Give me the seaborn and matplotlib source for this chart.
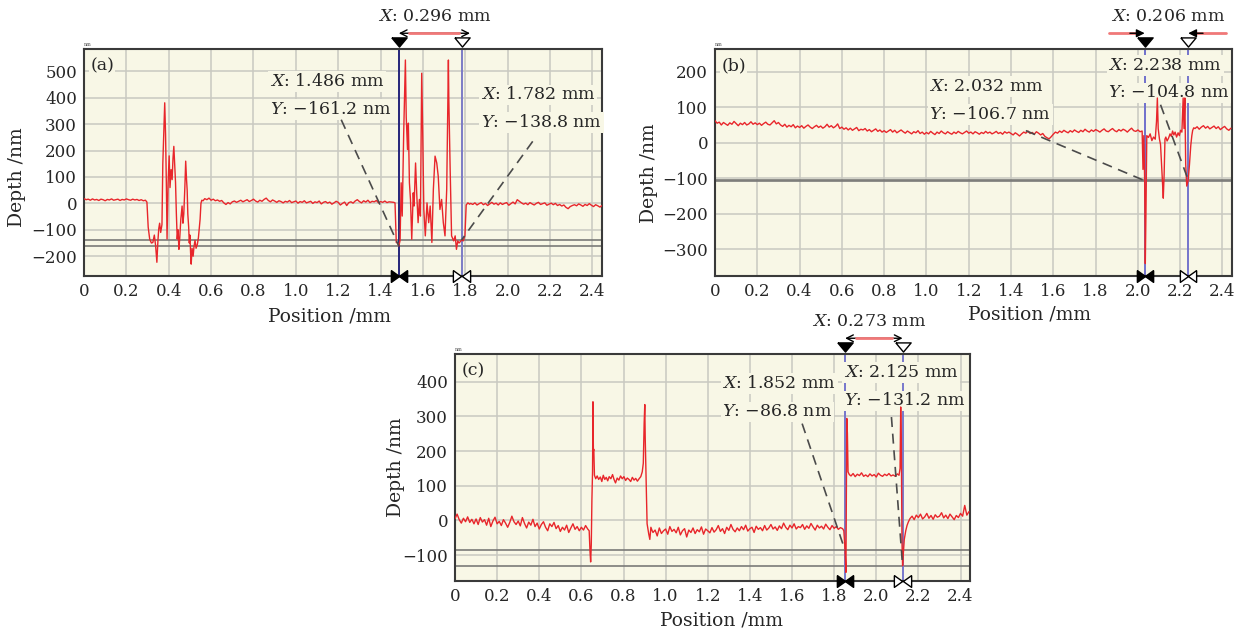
import numpy as np
import matplotlib
matplotlib.use("Agg")
import matplotlib.pyplot as plt
import matplotlib.transforms as mtransforms
import seaborn as sns

# ---- datos (perfiles de profundidad) ----
x_ticks = [0, 0.2, 0.4, 0.6, 0.8, 1.0, 1.2, 1.4, 1.6, 1.8, 2.0, 2.2, 2.4]
x_tick_labels = ["0", "0.2", "0.4", "0.6", "0.8", "1.0", "1.2", "1.4", "1.6", "1.8", "2.0", "2.2", "2.4"]

# (a)
a_base1 = [18, 14, 16, 12, 17, 13, 15, 11, 16, 14, 10, 15, 13, 17, 12,
           14, 16, 11, 15, 13, 17, 14, 12, 16, 13, 15, 11, 14, 10, 12]
a_feat1_x = [0.297, 0.303, 0.31, 0.318, 0.325, 0.332, 0.338, 0.344, 0.349, 0.353,
             0.357, 0.362, 0.368, 0.372, 0.376, 0.381, 0.385, 0.389, 0.392, 0.397,
             0.402, 0.406, 0.411, 0.416, 0.42, 0.424, 0.428, 0.432, 0.436, 0.44,
             0.444, 0.448, 0.452, 0.457, 0.463, 0.467, 0.471, 0.476, 0.48, 0.484,
             0.487, 0.49, 0.494, 0.497, 0.50, 0.503, 0.506, 0.51, 0.515, 0.519,
             0.524, 0.529, 0.535, 0.54, 0.543, 0.548, 0.552, 0.556, 0.562, 0.567]
a_feat1_y = [5, -90, -135, -150, -148, -120, -160, -223, -140, -95,
             -75, -110, -80, 150, 250, 381, 260, 60, -135, 80,
             180, 60, 128, 90, 170, 216, 150, 80, -40, -135,
             -100, -174, -130, -60, -10, -75, -40, 60, 160, 90,
             50, -40, -89, -150, -120, -185, -230, -170, -200, -165,
             -140, -170, -155, -130, -103, -60, 0, 12, 10, 15]
a_base2 = [18, 14, 20, 12, 16, 10, 13, 8, 11, 2,
           -4, 3, -2, 6, 9, 4, 8, 12, 6, 10,
           14, 7, 11, 16, 9, 5, 12, 8, 15, 20,
           11, 6, 13, 9, 4, 10, 7, 2, 8, 5,
           11, 3, 6, 9, 1, 7, 4, 10, 2, 5,
           8, 0, 6, 3, 9, -2, 4, 7, 1, 5,
           -3, 2, 8, 4, -6, 0, 5, -8, 3, 6,
           1, 9, 14, 7, 2, 10, 5, 12, 3, 8,
           6, 11, 2, 7, 4, 9, 3, 6, 5, 4]
a_feat2_x = [1.462, 1.468, 1.474, 1.480, 1.486, 1.492, 1.497, 1.502, 1.509, 1.517,
             1.521, 1.527, 1.531, 1.536, 1.541, 1.547, 1.554, 1.558, 1.565, 1.571,
             1.577, 1.583, 1.588, 1.594, 1.599, 1.604, 1.611, 1.619, 1.627, 1.634,
             1.642, 1.649, 1.657, 1.665, 1.672, 1.680, 1.688, 1.696, 1.704, 1.712,
             1.720, 1.722, 1.728, 1.735, 1.745, 1.752, 1.758, 1.764, 1.770, 1.776,
             1.782, 1.790, 1.798, 1.804, 1.812, 1.820]
a_feat2_y = [4, 2, -148, -150, -161.2, -140, 78, -48, 267, 543,
             326, 204, 304, 78, 15, -136, 40, -10, 153, 28,
             -73, 15, -48, 493, 254, -23, -123, 2, -73, -10,
             -148, 53, 179, 153, 103, -23, 15, -73, -123, 53,
             543, 392, 141, -123, -142, -123, -174, -142, -150, -145,
             -138.8, -142, -123, -6, 2, -3]
a_base3 = [0, -4, 2, -6, -1, 3, -5, 0, -8, -2,
           4, -3, 1, -6, 2, -4, 0, 3, -7, -1,
           5, -2, 14, 8, 2, -3, 1, -5, 3, -2,
           -6, 0, 4, -4, -1, 2, -7, -3, 1, -5,
           0, -8, -4, -10, -6, -15, -20, -12, -8, -5,
           -9, -2, -6, -11, -4, -8, -1, -7, -12, -5,
           -9, -14, -8]
a_cursor_x = [1.486, 1.782]
a_cursor_y = [-161.2, -138.8]

# (b)
b_base1 = [62, 55, 58, 50, 57, 53, 49, 56, 52, 60,
           54, 48, 55, 51, 57, 50, 53, 59, 52, 56,
           51, 55, 49, 54, 58, 52, 50, 56, 62, 53,
           57, 50, 46, 52, 44, 49, 45, 51, 42, 47,
           43, 48, 41, 46, 50, 44, 40, 45, 49, 43,
           47, 41, 45, 52, 44, 48, 42, 46, 53, 40,
           44, 38, 42, 36, 41, 35, 39, 43, 34, 38,
           36, 40, 33, 37, 31, 35, 39, 32, 36, 30,
           34, 29, 33, 37, 30, 35, 28, 32, 36, 31,
           27, 33, 29, 25, 31, 28, 34, 26, 30, 24,
           29, 25, 32, 27, 23, 30, 26, 33, 28, 25,
           31, 27, 24, 30, 26, 32, 28, 25, 29, 33,
           27, 30, 25, 31, 28, 24, 29, 26, 32, 27,
           30, 25, 28, 32, 26, 29, 24, 31, 27, 30,
           26, 22, 28, 24, 19, 25, 30, 27, 33, 26,
           29, 24, 31, 27, 22, 26, 18, 14, 11, 17,
           24, 30, 27, 33, 29, 35, 31, 28, 34, 30,
           36, 32, 29, 35, 31, 38, 33, 30, 36, 32,
           37, 34, 30, 35, 39, 33, 31, 36, 40, 34,
           31, 37, 33, 38, 35, 30, 36, 41, 34, 32,
           36, 31, 33]
b_feat_x = [2.024, 2.028, 2.032, 2.035, 2.038, 2.042, 2.05, 2.058, 2.066, 2.074,
            2.082, 2.088, 2.092, 2.096, 2.102, 2.107, 2.112, 2.117, 2.120, 2.124,
            2.128, 2.132, 2.138, 2.145, 2.152, 2.158, 2.164, 2.17, 2.176, 2.183,
            2.19, 2.196, 2.202, 2.208, 2.214, 2.218, 2.222, 2.226, 2.231, 2.238,
            2.244, 2.25, 2.255, 2.259, 2.264]
b_feat_y = [-75, 20, -106.7, -340, -200, 20, 15, 25, 6, 16,
            10, 60, 126, 40, 10, -5, -60, -120, -156, -90,
            10, 16, 5, 13, 25, 18, 33, 22, 30, 16,
            28, 20, 35, 30, 126, 40, 126, -60, -122, -104.8,
            -60, -8, 20, 35, 42]
b_base2 = [40, 45, 38, 44, 48, 41, 46, 39, 43, 47, 40, 45, 37, 42, 46, 39, 35, 41]
b_cursor_x = [2.032, 2.238]
b_cursor_y = [-106.7, -104.8]

# (c)
c_base1 = [5, 18, 2, -8, 6, -4, 10, -6, 3, -10,
           4, -12, 8, -5, 2, -14, 6, -18, -2, 9,
           -10, -3, -15, 2, -8, -20, -6, 12, -4, -12,
           -2, -16, 8, -9, -22, -5, -14, 3, -18, -8,
           -25, -12, -4, -20, -30, -10, -18, -6, -24, -15,
           -32, -20, -28, -14, -35, -22, -10, -26, -18, -30,
           -20, -28, -15, -25]
c_feat1_x = [0.637, 0.641, 0.644, 0.647, 0.650, 0.653, 0.655, 0.657, 0.659, 0.662,
             0.668, 0.675, 0.682, 0.69, 0.697, 0.704, 0.711, 0.718, 0.725, 0.732,
             0.74, 0.748, 0.755, 0.762, 0.77, 0.778, 0.786, 0.794, 0.802, 0.81,
             0.818, 0.826, 0.834, 0.842, 0.85, 0.858, 0.866, 0.874, 0.882, 0.889,
             0.894, 0.898, 0.901, 0.903, 0.906, 0.909, 0.912, 0.916, 0.92, 0.925,
             0.93, 0.936]
c_feat1_y = [-30, -90, -120, -70, 60, 140, 342, 200, 205, 130,
             120, 128, 118, 125, 112, 130, 118, 124, 114, 126,
             120, 132, 118, 108, 122, 116, 128, 120, 126, 115,
             122, 118, 112, 124, 116, 121, 113, 120, 126, 140,
             165, 280, 334, 240, 150, 70, -10, -25, -40, -55,
             -20, -30]
c_base2 = [-35, -28, -45, -22, -38, -30, -25, -40, -18, -32,
           -26, -36, -20, -42, -30, -24, -48, -28, -35, -22,
           -38, -27, -33, -19, -40, -25, -30, -36, -21, -34,
           -27, -15, -32, -24, -38, -20, -29, -12, -26, -33,
           -22, -30, -18, -27, -14, -31, -24, -20, -35, -17,
           -26, -21, -30, -15, -28, -22, -12, -25, -19, -29,
           -16, -24, -8, -20, -27, -14, -22, -10, -25, -18,
           -21, -12, -26, -16, -23, -9, -19, -28, -14, -22,
           -17, -25, -11, -20, -27, -15, -23, -18, -26, -21,
           -24]
c_feat2_x = [1.846, 1.852, 1.856, 1.858, 1.860, 1.863, 1.866, 1.872, 1.88, 1.89,
             1.90, 1.91, 1.92, 1.93, 1.94, 1.95, 1.96, 1.97, 1.98, 1.99,
             2.0, 2.01, 2.02, 2.03, 2.04, 2.05, 2.06, 2.07, 2.08, 2.09,
             2.10, 2.108, 2.113, 2.116, 2.119, 2.122, 2.125, 2.128, 2.133, 2.14,
             2.146, 2.152]
c_feat2_y = [-30, -86.8, -150, 100, 294, 250, 140, 132, 128, 135,
             126, 133, 129, 137, 127, 131, 126, 134, 128, 132,
             125, 136, 130, 127, 133, 129, 135, 128, 131, 127,
             134, 130, 150, 327, 220, -60, -131.2, -100, -55, -30,
             -15, -5]
c_base3 = [5, 12, 2, 15, 8, 18, 4, 10, 20, 6, 14, 3, 16, 9, 12,
           22, 7, 15, 5, 18, 10, 2, 14, 8, 20, 12, 43, 15, 25]
c_cursor_x = [1.852, 2.125]
c_cursor_y = [-86.8, -131.2]

# tramos de linea base: muestreo uniforme del perfilometro
a_x = np.concatenate([np.linspace(0, 0.29, len(a_base1)), a_feat1_x,
                      np.linspace(0.57, 1.46, len(a_base2)), a_feat2_x,
                      np.linspace(1.825, 2.445, len(a_base3))])
a_y = np.concatenate([a_base1, a_feat1_y, a_base2, a_feat2_y, a_base3])
b_x = np.concatenate([np.linspace(0, 2.02, len(b_base1)), b_feat_x,
                      np.linspace(2.27, 2.44, len(b_base2))])
b_y = np.concatenate([b_base1, b_feat_y, b_base2])
c_x = np.concatenate([np.linspace(0, 0.63, len(c_base1)), c_feat1_x,
                      np.linspace(0.94, 1.84, len(c_base2)), c_feat2_x,
                      np.linspace(2.16, 2.44, len(c_base3))])
c_y = np.concatenate([c_base1, c_feat1_y, c_base2, c_feat2_y, c_base3])

# ---- estilo ----
sns.set_style("white")
plt.rcParams['font.family'] = ['DejaVu Serif']
plt.rcParams['mathtext.fontset'] = 'dejavuserif'

BG = '#f8f7e6'
GRID = '#c9c9c1'
RED = '#e8262b'
FS_TICK = 12
FS_TXT = 12.5
FS_LAB = 13.5

# marcadores: triangulo plano arriba, mitades de "pajarita" abajo (cerrados)
TRI_DOWN = [(-1, 0.6), (1, 0.6), (0, -0.6), (-1, 0.6)]
TRI_RIGHT = [(-0.7, 1), (0.7, 0), (-0.7, -1), (-0.7, 1)]
TRI_LEFT = [(0.7, 1), (-0.7, 0), (0.7, -1), (0.7, 1)]

fig = plt.figure(figsize=(12.5, 6.29), dpi=100)
ax_a = fig.add_axes([0.0672, 0.5612, 0.4144, 0.361])
ax_b = fig.add_axes([0.572, 0.5612, 0.4136, 0.361])
ax_c = fig.add_axes([0.364, 0.0763, 0.412, 0.361])


def base_panel(ax, x, y, ylim, yticks, tag, cx, cy, ccols, xlab_pos, ylab_pos):
    ax.set_facecolor(BG)
    ax.set_axisbelow(True)
    ax.grid(True, color=GRID, lw=1.1)
    for v in cy:
        ax.axhline(v, color='#7b7b78', lw=1.2, zorder=1)
    for v, c in zip(cx, ccols):
        ax.axvline(v, color=c, lw=1.4, zorder=2)
    sns.lineplot(x=x, y=y, sort=False, estimator=None, errorbar=None,
                 color=RED, linewidth=1.0, ax=ax, zorder=4)
    ax.set_xlim(0, 2.445)
    ax.set_ylim(*ylim)
    ax.set_xticks(x_ticks)
    ax.set_xticklabels(x_tick_labels)
    ax.set_yticks(yticks)
    ax.set_xticks(np.arange(0, 2.45, 0.05), minor=True)
    ax.set_yticks(np.arange(ylim[0] - ylim[0] % 25, ylim[1], 25), minor=True)
    ax.tick_params(which='major', direction='in', length=4, width=0.8,
                   labelsize=FS_TICK, color='#333333', pad=5)
    ax.tick_params(which='minor', direction='in', length=2.5, width=0.6, color='#333333')
    for s in ax.spines.values():
        s.set_color('#3a3a3a')
        s.set_linewidth(1.5)
    ax.set_xlabel('Position /mm', fontsize=FS_LAB)
    ax.set_ylabel('Depth /nm', fontsize=FS_LAB)
    ax.xaxis.set_label_coords(*xlab_pos)
    ax.yaxis.set_label_coords(*ylab_pos)
    ax.text(0.012, 0.925, tag, transform=ax.transAxes, fontsize=FS_TXT, va='center',
            ha='left', bbox=dict(fc=BG, ec='none', pad=1), zorder=3)
    ax.text(0.0, 1.012, 'nm', transform=ax.transAxes, fontsize=3.5, color='#555555')

    xt = ax.get_xaxis_transform()
    top = mtransforms.offset_copy(xt, fig=fig, y=4.8, units='points')
    left = mtransforms.offset_copy(xt, fig=fig, x=-3.0, units='points')
    right = mtransforms.offset_copy(xt, fig=fig, x=3.0, units='points')
    for v, fill in zip(cx, ['k', 'white']):
        ax.plot([v], [1], marker=TRI_DOWN, ms=11, mfc=fill, mec='k', mew=1,
                transform=top, clip_on=False, zorder=6)
        ax.plot([v], [0], marker=TRI_RIGHT, ms=8.5, mfc=fill, mec='k', mew=1,
                transform=left, clip_on=False, zorder=6)
        ax.plot([v], [0], marker=TRI_LEFT, ms=8.5, mfc=fill, mec='k', mew=1,
                transform=right, clip_on=False, zorder=6)


def label(ax, x, y, s):
    ax.text(x, y, s, fontsize=FS_TXT, va='center', ha='left',
            bbox=dict(fc=BG, ec='none', pad=1.2), zorder=3)


def leader(ax, x0, y0, x1, y1):
    ax.plot([x0, x1], [y0, y1], ls=(0, (6, 4)), color='#4b4b4b', lw=1.2, zorder=5)


def span_text(ax, xc, s):
    t = mtransforms.offset_copy(ax.get_xaxis_transform(), fig=fig, y=23.5, units='points')
    ax.text(xc, 1, s, transform=t, fontsize=FS_TXT, ha='center', va='center')


def arrow_between(ax, x1, x2):
    t = mtransforms.offset_copy(ax.get_xaxis_transform(), fig=fig, y=11.3, units='points')
    ax.annotate('', xy=(x2, 1), xytext=(x1, 1), xycoords=t, textcoords=t,
                arrowprops=dict(arrowstyle='<->', color='k', lw=1.0,
                                shrinkA=0, shrinkB=0, mutation_scale=12),
                annotation_clip=False)
    ax.plot([x1 + 0.05, x2 - 0.05], [1, 1], transform=t, color='#f07878',
            lw=2, clip_on=False, zorder=6)


def arrows_outside(ax, x1, x2):
    t = mtransforms.offset_copy(ax.get_xaxis_transform(), fig=fig, y=11.3, units='points')
    ax.plot([x1 - 0.17, x1 - 0.04], [1, 1], transform=t, color='#f07878', lw=2, clip_on=False)
    ax.plot([x2 + 0.04, x2 + 0.18], [1, 1], transform=t, color='#f07878', lw=2, clip_on=False)
    ax.annotate('', xy=(x1, 1), xytext=(x1 - 0.07, 1), xycoords=t, textcoords=t,
                arrowprops=dict(arrowstyle='-|>', color='k', lw=1.0,
                                shrinkA=0, shrinkB=0, mutation_scale=12),
                annotation_clip=False)
    ax.annotate('', xy=(x2, 1), xytext=(x2 + 0.07, 1), xycoords=t, textcoords=t,
                arrowprops=dict(arrowstyle='-|>', color='k', lw=1.0,
                                shrinkA=0, shrinkB=0, mutation_scale=12),
                annotation_clip=False)


# ---- (a) ----
base_panel(ax_a, a_x, a_y, (-267, 585), [-200, -100, 0, 100, 200, 300, 400, 500], '(a)',
           a_cursor_x, a_cursor_y, ['#25257a', '#7b7bc6'], (0.473, -0.14), (-0.112, 0.436))
label(ax_a, 0.876, 462, r'$X$: 1.486 mm')
label(ax_a, 0.876, 355, r'$Y$: −161.2 nm')
label(ax_a, 1.873, 411, r'$X$: 1.782 mm')
label(ax_a, 1.873, 307, r'$Y$: −138.8 nm')
leader(ax_a, 1.214, 317, a_cursor_x[0], a_cursor_y[0])
leader(ax_a, 2.118, 235, a_cursor_x[1], a_cursor_y[1])
span_text(ax_a, 1.657, r'$X$: 0.296 mm')
arrow_between(ax_a, a_cursor_x[0], a_cursor_x[1] + 0.04)

# ---- (b) ----
base_panel(ax_b, b_x, b_y, (-358, 264), [-300, -200, -100, 0, 100, 200], '(b)',
           b_cursor_x, b_cursor_y, ['#7070cc', '#7474cc'], (0.609, -0.128), (-0.110, 0.454))
label(ax_b, 1.014, 158, r'$X$: 2.032 mm')
label(ax_b, 1.014, 80, r'$Y$: −106.7 nm')
label(ax_b, 1.86, 217, r'$X$: 2.238 mm')
label(ax_b, 1.86, 140, r'$Y$: −104.8 nm')
leader(ax_b, 1.47, 34, b_cursor_x[0], b_cursor_y[0])
leader(ax_b, 2.107, 107, b_cursor_x[1], b_cursor_y[1])
span_text(ax_b, 2.145, r'$X$: 0.206 mm')
arrows_outside(ax_b, b_cursor_x[0], b_cursor_x[1])

# ---- (c) ----
base_panel(ax_c, c_x, c_y, (-172, 480), [-100, 0, 100, 200, 300, 400], '(c)',
           c_cursor_x, c_cursor_y, ['#7676cc', '#7878cc'], (0.518, -0.135), (-0.097, 0.502))
label(ax_c, 1.269, 395, r'$X$: 1.852 mm')
label(ax_c, 1.269, 313, r'$Y$: −86.8 nm')
label(ax_c, 1.847, 426, r'$X$: 2.125 mm')
label(ax_c, 1.847, 345, r'$Y$: −131.2 nm')
leader(ax_c, 1.648, 279, c_cursor_x[0], c_cursor_y[0])
leader(ax_c, 2.072, 298, c_cursor_x[1], c_cursor_y[1])
span_text(ax_c, 1.964, r'$X$: 0.273 mm')
arrow_between(ax_c, c_cursor_x[0], c_cursor_x[1])

fig.savefig('out.png', dpi=100, facecolor='white')
